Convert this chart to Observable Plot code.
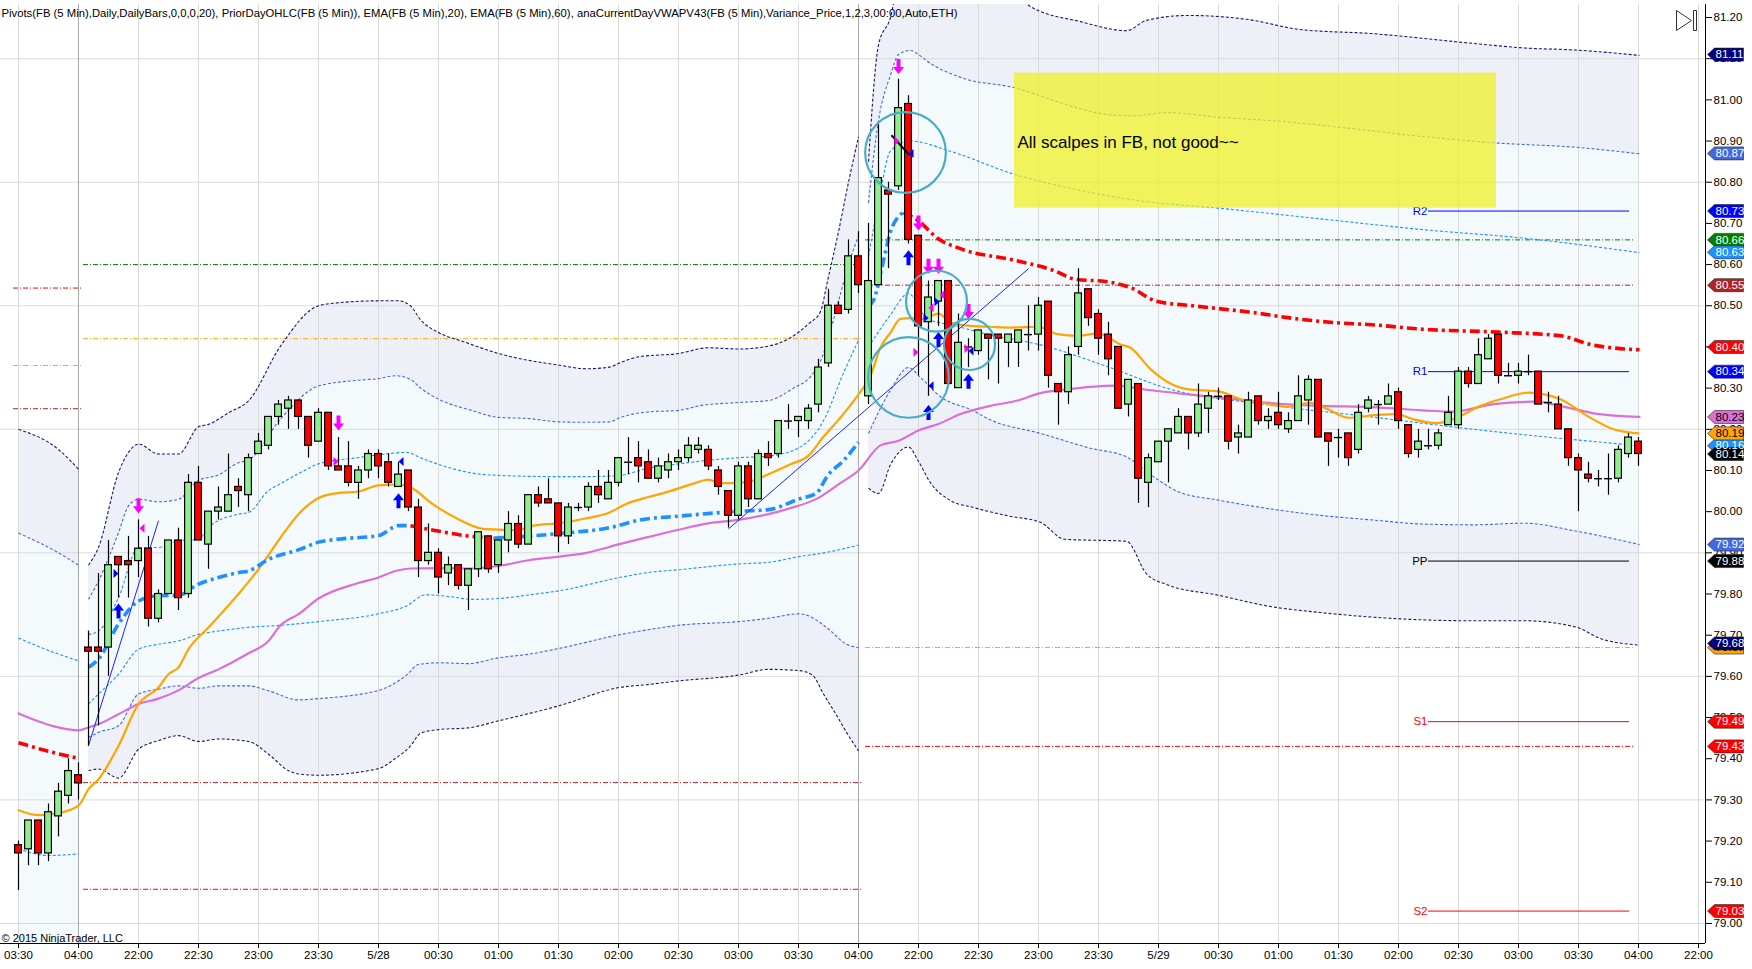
<!DOCTYPE html>
<html>
<head>
<meta charset="utf-8">
<script src="https://cdn.jsdelivr.net/npm/d3@7"></script>
<script src="https://cdn.jsdelivr.net/npm/@observablehq/plot@0.6"></script>
<style>
  html, body { margin: 0; padding: 0; background: #ffffff; }
  #chart svg { display: block; }
</style>
</head>
<body>
<div id="chart"></div>
<script>
// ---------------- DATA ----------------
const titleText = "Pivots(FB (5 Min),Daily,DailyBars,0,0,0,20), PriorDayOHLC(FB (5 Min)), EMA(FB (5 Min),20), EMA(FB (5 Min),60), anaCurrentDayVWAPV43(FB (5 Min),Variance_Price,1,2,3,00:00,Auto,ETH)";
const copyrightText = "© 2015 NinjaTrader, LLC";

// x axis labels, one every 6 bars (30 minutes of 5-minute bars)
const xLabels = ["03:30","04:00","22:00","22:30","23:00","23:30","5/28","00:30","01:00","01:30","02:00","02:30","03:00","03:30","04:00","22:00","22:30","23:00","23:30","5/29","00:30","01:00","01:30","02:00","02:30","03:00","03:30","04:00","22:00"];
const yTickValues = [79.0,79.1,79.2,79.3,79.4,79.5,79.6,79.7,79.8,79.9,80.0,80.1,80.2,80.3,80.4,80.5,80.6,80.7,80.8,80.9,81.0,81.1,81.2];
const yGridValues = [79.0,79.3,79.6,79.9,80.2,80.5,80.8,81.1];
const sessionBreaks = [6, 84];

// candles: [open, high, low, close], bar index = position
const ohlc = [
[79.19,79.20,79.08,79.17],[79.18,79.25,79.14,79.25],[79.25,79.25,79.14,79.17],[79.17,79.29,79.15,79.27],[79.26,79.34,79.21,79.32],
[79.31,79.40,79.29,79.37],[79.36,79.39,79.30,79.34],[79.67,79.71,79.43,79.66],[79.67,79.85,79.48,79.66],[79.67,79.93,79.60,79.87],
[79.89,79.89,79.79,79.87],[79.88,79.94,79.79,79.87],[79.88,79.98,79.84,79.91],[79.91,79.94,79.72,79.74],[79.74,79.81,79.73,79.80],
[79.80,79.93,79.80,79.93],[79.93,79.96,79.76,79.79],[79.80,80.09,79.79,80.07],[80.07,80.11,79.93,79.93],[79.92,80.00,79.86,80.00],
[80.00,80.06,79.98,80.01],[80.00,80.14,80.00,80.04],[80.06,80.08,80.01,80.05],[80.04,80.14,80.00,80.13],[80.14,80.19,80.14,80.17],
[80.16,80.23,80.15,80.23],[80.23,80.27,80.21,80.26],[80.25,80.28,80.20,80.27],[80.27,80.27,80.20,80.23],[80.23,80.23,80.13,80.16],
[80.17,80.25,80.17,80.24],[80.24,80.24,80.10,80.11],[80.11,80.18,80.10,80.10],[80.11,80.17,80.06,80.07],[80.07,80.11,80.03,80.10],
[80.10,80.15,80.08,80.14],[80.14,80.15,80.08,80.11],[80.12,80.14,80.06,80.07],[80.06,80.12,80.06,80.09],[80.10,80.10,80.00,80.01],
[80.01,80.03,79.84,79.88],[79.88,79.97,79.87,79.90],[79.90,79.91,79.80,79.84],[79.85,79.89,79.82,79.87],[79.87,79.87,79.81,79.82],
[79.82,79.86,79.76,79.86],[79.86,79.95,79.84,79.95],[79.94,79.94,79.85,79.86],[79.87,79.93,79.85,79.93],[79.93,80.00,79.90,79.97],
[79.97,79.99,79.91,79.92],[79.92,80.04,79.92,80.04],[80.04,80.06,80.01,80.02],[80.03,80.08,80.02,80.02],[80.02,80.02,79.90,79.94],
[79.94,80.02,79.92,80.01],[80.01,80.02,80.00,80.01],[80.01,80.07,80.00,80.06],[80.06,80.10,80.02,80.04],[80.03,80.10,80.03,80.07],
[80.07,80.13,80.06,80.13],[80.12,80.18,80.09,80.12],[80.13,80.17,80.07,80.11],[80.12,80.15,80.08,80.08],[80.08,80.13,80.07,80.11],
[80.10,80.14,80.08,80.12],[80.12,80.15,80.10,80.13],[80.13,80.18,80.12,80.16],[80.15,80.18,80.14,80.16],[80.15,80.16,80.10,80.11],
[80.10,80.11,80.04,80.06],[80.05,80.05,79.96,79.99],[79.99,80.12,79.98,80.11],[80.11,80.12,80.01,80.03],[80.03,80.15,80.03,80.14],
[80.14,80.17,80.11,80.13],[80.14,80.22,80.13,80.22],[80.22,80.26,80.20,80.22],[80.22,80.23,80.18,80.23],[80.22,80.26,80.20,80.25],
[80.26,80.37,80.24,80.35],[80.36,80.54,80.35,80.50],[80.50,80.51,80.48,80.48],[80.49,80.66,80.48,80.62],[80.62,80.68,80.53,80.55],
[80.28,80.70,80.26,80.56],[80.55,80.94,80.55,80.81],[80.78,80.80,80.59,80.77],[80.79,81.05,80.78,80.98],[80.99,81.01,80.65,80.66],
[80.67,80.67,80.33,80.45],[80.46,80.56,80.28,80.52],[80.51,80.56,80.45,80.56],[80.56,80.56,80.31,80.31],[80.30,80.48,80.30,80.41],
[80.40,80.42,80.35,80.40],[80.39,80.44,80.38,80.44],[80.43,80.43,80.32,80.42],[80.43,80.43,80.31,80.42],[80.41,80.43,80.35,80.43],
[80.41,80.44,80.35,80.44],[80.43,80.50,80.39,80.43],[80.43,80.52,80.39,80.50],[80.51,80.51,80.30,80.33],[80.31,80.31,80.21,80.29],
[80.29,80.40,80.26,80.38],[80.40,80.59,80.38,80.53],[80.54,80.54,80.45,80.47],[80.48,80.49,80.38,80.42],[80.43,80.46,80.33,80.37],
[80.40,80.40,80.25,80.25],[80.26,80.32,80.23,80.32],[80.31,80.31,80.02,80.08],[80.07,80.14,80.01,80.13],[80.12,80.17,80.12,80.17],
[80.17,80.20,80.07,80.20],[80.19,80.25,80.19,80.23],[80.23,80.23,80.15,80.19],[80.19,80.31,80.18,80.26],[80.25,80.29,80.19,80.28],
[80.28,80.30,80.27,80.28],[80.28,80.28,80.15,80.17],[80.18,80.21,80.14,80.19],[80.18,80.29,80.18,80.27],[80.28,80.28,80.21,80.22],
[80.22,80.25,80.20,80.23],[80.24,80.29,80.20,80.21],[80.20,80.24,80.19,80.22],[80.22,80.33,80.22,80.28],[80.27,80.33,80.21,80.32],
[80.32,80.32,80.18,80.18],[80.19,80.19,80.11,80.17],[80.18,80.20,80.13,80.18],[80.19,80.19,80.11,80.13],[80.15,80.26,80.14,80.24],
[80.25,80.28,80.24,80.27],[80.26,80.27,80.21,80.26],[80.26,80.31,80.26,80.28],[80.29,80.30,80.20,80.22],[80.21,80.21,80.13,80.14],
[80.15,80.20,80.13,80.17],[80.16,80.20,80.15,80.16],[80.16,80.20,80.15,80.19],[80.21,80.28,80.21,80.24],[80.21,80.35,80.20,80.34],
[80.34,80.35,80.30,80.31],[80.31,80.42,80.31,80.38],[80.37,80.43,80.37,80.42],[80.43,80.43,80.31,80.33],[80.33,80.36,80.33,80.33],
[80.33,80.36,80.31,80.34],[80.34,80.38,80.33,80.34],[80.34,80.34,80.26,80.26],[80.265,80.29,80.24,80.265],[80.26,80.28,80.20,80.20],
[80.20,80.20,80.11,80.13],[80.13,80.14,80.00,80.10],[80.09,80.12,80.07,80.08],[80.08,80.10,80.06,80.08],[80.08,80.14,80.04,80.08],
[80.08,80.16,80.07,80.15],[80.14,80.19,80.13,80.18],[80.17,80.18,80.11,80.14]
];

// EMA(20) and EMA(60): [bar, value]
const ema20 = [[0,79.275],[2,79.263],[4,79.268],[6,79.286],[7,79.326],[8,79.35],[10,79.431],[12,79.533],[14,79.573],[15,79.605],[16,79.622],[17,79.666],[19,79.719],[22,79.80],[24,79.86],[26.2,79.937],[28,79.994],[30,80.033],[31.9,80.045],[34,80.049],[36,80.064],[38,80.066],[39.2,80.059],[41.5,80.017],[43.8,79.984],[46.5,79.958],[48.4,79.956],[49.9,79.955],[51.5,79.966],[54.1,79.972],[56.8,79.984],[59.1,79.998],[60.6,80.017],[62.9,80.035],[64.5,80.045],[67.5,80.068],[69,80.078],[70.2,80.069],[72.1,80.07],[73.3,80.074],[75.2,80.093],[77.1,80.114],[79,80.136],[80.5,80.182],[82.1,80.226],[84,80.285],[85.2,80.33],[86.2,80.399],[87.2,80.435],[88.2,80.468],[89.2,80.47],[90.4,80.468],[92,80.481],[93.2,80.46],[95.2,80.451],[97.2,80.449],[99.2,80.447],[102,80.449],[103.9,80.431],[105.9,80.427],[108,80.433],[110.2,80.406],[111.2,80.398],[113.2,80.346],[114.9,80.315],[117,80.297],[120,80.292],[122.2,80.273],[124.2,80.265],[127,80.255],[129.2,80.264],[130.9,80.249],[133,80.228],[135.9,80.235],[137.8,80.237],[139.5,80.224],[141.8,80.215],[143.8,80.228],[146.2,80.257],[148.2,80.273],[151,80.289],[154.2,80.273],[156.9,80.232],[159.5,80.20],[162,80.19]];
const ema60 = [[0,79.51],[4,79.476],[6,79.469],[7,79.476],[8,79.484],[10,79.508],[12,79.533],[14,79.546],[16,79.566],[18,79.596],[20,79.617],[23,79.656],[25,79.686],[26.2,79.724],[28,79.751],[30,79.789],[33.9,79.826],[36,79.84],[37.7,79.856],[39.2,79.862],[42.1,79.863],[45.3,79.862],[48,79.868],[51,79.882],[54.1,79.891],[56.8,79.90],[60.1,79.921],[62.9,79.938],[66,79.956],[69.1,79.972],[72,79.98],[75,79.994],[77.1,80.008],[79.8,80.031],[82.1,80.068],[84,80.10],[86.2,80.161],[88,80.172],[90,80.197],[92,80.213],[94.2,80.237],[97.2,80.257],[99.9,80.27],[102.2,80.288],[104.5,80.296],[107.2,80.303],[109.7,80.306],[112.8,80.296],[116.9,80.285],[121,80.275],[125.1,80.264],[130.2,80.257],[135.3,80.254],[140.4,80.246],[143.4,80.243],[147.5,80.261],[151.6,80.267],[154.7,80.254],[157.7,80.238],[162.1,80.23]];

// Current-day VWAP and its 1/2/3 deviation bands, per session: [bar, value]
const s1Vwap = [[0,79.439],[3,79.418],[6,79.401]];
const s1U1 = [[0,79.693],[4,79.654],[6,79.638]];
const s1U2 = [[0,79.948],[4,79.90],[6,79.87]];
const s1U3 = [[0,80.20],[4,80.151],[6,80.103]];
const s1L1 = [[0,79.181],[3,79.165],[6,79.169]];

const s2Vwap = [[7,79.622],[8,79.642],[10,79.727],[12,79.783],[14,79.796],[16,79.797],[18,79.824],[20,79.84],[22,79.852],[23,79.856],[25,79.884],[28.2,79.909],[30,79.926],[31.9,79.933],[36,79.942],[38,79.966],[39.2,79.966],[41.5,79.955],[44.6,79.942],[47.6,79.936],[50.7,79.94],[54.1,79.947],[59.1,79.961],[62.2,79.98],[66,79.989],[72,80.001],[75,80.005],[78.1,80.031],[79.8,80.045],[80.9,80.087],[82.5,80.124],[84,80.168]];
const s2U1 = [[7,79.702],[8,79.71],[10,79.791],[12,79.913],[14,79.913],[16,79.929],[18,79.933],[19,79.962],[22,79.994],[23,79.998],[25,80.051],[26.2,80.068],[28.2,80.095],[30,80.116],[33.9,80.131],[36,80.138],[38.8,80.144],[40.2,80.131],[42.1,80.114],[45.3,80.094],[48,80.088],[54.1,80.085],[56.8,80.085],[60.1,80.088],[62.9,80.105],[66,80.116],[69.1,80.125],[72,80.131],[75,80.135],[78.1,80.156],[80.5,80.221],[82.5,80.337],[84,80.416]];
const s2U2 = [[7,79.787],[8,79.832],[10,79.949],[11,80.014],[12,80.03],[14,80.024],[16,80.03],[18,80.076],[20,80.089],[22,80.119],[23,80.125],[26.2,80.225],[30,80.305],[33.9,80.319],[36,80.323],[37.7,80.33],[39.2,80.321],[40.2,80.30],[42.1,80.272],[45.3,80.246],[48,80.229],[51.1,80.226],[54.1,80.218],[56.8,80.217],[59.1,80.218],[60.1,80.228],[62.9,80.242],[66,80.246],[68.3,80.258],[72,80.265],[75,80.27],[77.5,80.30],[79.2,80.328],[80.2,80.365],[81.3,80.449],[82.1,80.52],[83,80.60],[84,80.67]];
const s2U3 = [[7,79.87],[8,79.913],[10,80.095],[11,80.144],[12,80.164],[14,80.14],[16,80.14],[18,80.206],[19,80.212],[21,80.24],[23,80.269],[26.2,80.402],[30,80.50],[31.9,80.507],[36,80.512],[38,80.512],[39.2,80.50],[40.2,80.466],[42,80.435],[44.6,80.412],[48,80.384],[54,80.356],[56.8,80.347],[59.1,80.351],[60,80.36],[62,80.376],[66,80.384],[69,80.398],[72,80.395],[75,80.402],[77.1,80.421],[79,80.456],[80.2,80.486],[80.9,80.56],[82,80.68],[83,80.80],[84,80.91]];
const s2L1 = [[7,79.533],[8,79.557],[10,79.605],[12,79.666],[14,79.678],[16,79.686],[18,79.702],[20,79.71],[23,79.719],[26.2,79.724],[30,79.733],[36,79.752],[38.8,79.771],[40.7,79.798],[43,79.794],[45.3,79.787],[48,79.789],[51.1,79.798],[54.1,79.808],[60.1,79.84],[62.9,79.852],[66,79.859],[72,79.873],[75,79.877],[78.1,79.891],[81,79.902],[82.5,79.91],[84,79.919]];
const s2L2 = [[7,79.452],[8,79.464],[10,79.48],[12,79.557],[14,79.569],[16,79.577],[18,79.571],[20,79.577],[23,79.577],[25,79.565],[28,79.543],[30,79.546],[36,79.566],[38.8,79.603],[40,79.629],[42.1,79.633],[45,79.631],[48,79.645],[51.1,79.654],[54.1,79.668],[60.1,79.701],[62.9,79.713],[66,79.724],[72,79.733],[75,79.741],[78.1,79.752],[79,79.747],[81,79.715],[82.8,79.678],[84,79.67]];
const s2L3 = [[7,79.371],[8,79.375],[10,79.353],[12,79.423],[14,79.444],[16,79.456],[18,79.442],[20,79.448],[23,79.442],[25,79.411],[27,79.371],[28,79.363],[30,79.36],[36,79.376],[37.7,79.401],[39.2,79.431],[40.2,79.462],[42.1,79.471],[45,79.475],[48,79.492],[51.1,79.51],[54.1,79.529],[60.1,79.573],[62.9,79.58],[66,79.589],[72,79.603],[75,79.617],[78.1,79.614],[79.4,79.603],[80.5,79.557],[81.7,79.51],[82.8,79.464],[84,79.419]];

const s3Vwap = [[85,80.50],[85.5,80.513],[86.5,80.61],[87.2,80.68],[87.9,80.714],[88.5,80.727],[90,80.706],[91.9,80.664],[94.4,80.637],[99.5,80.611],[103.6,80.585],[105.7,80.564],[108.7,80.559],[111.3,80.543],[113.8,80.511],[117.4,80.50],[123,80.485],[127.6,80.469],[131.7,80.459],[135.3,80.454],[140.4,80.443],[148,80.436],[154.2,80.427],[157.2,80.406],[162.1,80.393]];
const s3U1 = [[85,80.62],[86,80.75],[87.2,80.876],[89.2,80.90],[93.2,80.875],[99.5,80.82],[106.2,80.78],[112.8,80.753],[120,80.737],[130.2,80.711],[140.4,80.685],[150.6,80.664],[162.1,80.629]];
const s3U2 = [[85,80.75],[86,80.95],[87.2,81.06],[88,81.11],[89.2,81.12],[90,81.11],[90.8,81.095],[94.4,81.053],[99.5,81.03],[104.6,80.99],[107.7,80.969],[111.3,80.961],[114.8,80.969],[120,80.958],[126.1,80.948],[132.7,80.932],[140.4,80.911],[148,80.895],[155.7,80.885],[162.1,80.869]];
const s3U3 = [[85,80.85],[86,81.133],[87.2,81.20],[88,81.28],[99,81.28],[101.1,81.228],[106.2,81.19],[110.8,81.168],[112.8,81.193],[116.9,81.205],[123,81.195],[128.1,81.171],[135.3,81.161],[145.5,81.137],[150.6,81.126],[155.7,81.121],[162.1,81.108]];
const s3L1 = [[85,80.40],[87.2,80.478],[89,80.53],[90.8,80.47],[93.9,80.45],[97,80.43],[102.2,80.405],[108.7,80.354],[114.8,80.30],[125.1,80.259],[135.3,80.23],[145.5,80.20],[162.1,80.16]];
const s3L2 = [[85,80.19],[87.2,80.295],[89,80.35],[90.2,80.326],[92.2,80.279],[95.5,80.245],[97,80.225],[102.2,80.19],[107.2,80.154],[110.8,80.133],[113.8,80.08],[115.9,80.049],[120,80.028],[125.1,80.007],[130.2,79.991],[135.3,79.98],[140.4,79.97],[145.5,79.968],[150.6,79.972],[155.7,79.953],[162.1,79.92]];
const s3L3 = [[85,80.057],[86,80.044],[87.2,80.114],[89,80.157],[90,80.122],[91.2,80.07],[93.2,80.027],[95.5,80.01],[98.9,79.99],[102.2,79.974],[104.6,79.933],[110.8,79.928],[112.8,79.849],[114.8,79.823],[120,79.797],[125.1,79.77],[130.2,79.755],[135.3,79.744],[145.5,79.735],[150.6,79.735],[155.7,79.72],[158.3,79.691],[162.1,79.676]];

// Prior-day OHLC levels: [fromBar, toBar, price, kind]
const priorDayLevels = [
  [-0.5, 6.5, 80.543, "low"], [-0.5, 6.5, 80.355, "close"], [-0.5, 6.5, 80.25, "open"],
  [6.5, 84.4, 80.60, "high"], [6.5, 84.4, 80.42, "close"], [6.5, 84.4, 79.342, "open"], [6.5, 84.4, 79.083, "low"],
  [84.7, 161.6, 80.66, "high"], [84.7, 161.6, 80.55, "open"], [84.7, 161.6, 79.67, "close"], [84.7, 161.6, 79.43, "low"]
];
// Daily pivots
const pivotNames = ["R2", "R1", "PP", "S1", "S2"];
const pivotValues = [80.73, 80.34, 79.88, 79.49, 79.03];
const pivotSpan = [141, 161.1];

// Hand-drawn objects: trend lines [bar1, price1, bar2, price2]
const trendLines = [[7, 79.432, 14, 79.978], [71, 79.958, 101, 80.59]];
const blackStroke = [[87.3, 80.914, 89.1, 80.866]];
// signal markers [bar, price]
const sellArrows = [[12,80.013],[32,80.214],[88,81.08],[90,80.70],[91,80.595],[92,80.595],[95,80.485]];
const buyArrows = [[10,79.76],[38,80.028],[89,80.618],[91,80.242],[92,80.419],[95,80.318]];
const magentaRight = [[31.7,80.122],[87.8,80.90],[89.7,80.387],[94.8,80.396]];
const magentaLeft = [[12.4,79.96],[91.3,80.495],[92.4,80.527]];
const blueRight = [[9.7,79.85],[90.7,80.47],[91.8,80.51]];
const blueLeft = [[38.3,80.122],[89.3,80.87],[91.3,80.306],[95.3,80.39]];
// ellipses: [bar, price, radius in price units]
const circleMarks = [[88.7, 80.872, 0.098], [91.8, 80.511, 0.074], [95.1, 80.406, 0.062], [89.0, 80.326, 0.098]];
// yellow note box: [bar1, bar2, price1, price2]
const noteBox = [99.6, 147.8, 80.737, 81.065];
const noteText = "All scalpes in FB, not good~~";
const notePos = [99.9, 80.896];

// Price tags on the axis (last values)
const tagValues = [81.11, 80.87, 80.73, 80.66, 80.63, 80.55, 80.40, 80.34, 80.23, 80.16, 80.19, 80.14, 79.92, 79.88, 79.67, 79.68, 79.49, 79.43, 79.03];
const tagSeries = ["u3","u2","r","high","u1","open","vwap","r","ema60","u1","ema20","last","u2","pp","close","u3","s","low","s"];

// ---------------- STYLE ----------------
const C = {
  up: "#90ee90", down: "#ff0000", wick: "#000000",
  ema20: "#ffa500", ema60: "#da70d6",
  vwapUp: "#1e90ff", vwapDown: "#ff0000",
  u1: "#1e90ff", u2: "#4169e1", u3: "#191970",
  lavender: "#eef0f8", azure: "#f4fafb",
  grid: "#dadada", sep: "#a8a8a8",
  high: "#008000", low: "#ff0000", open: "#b22222", close: "#ffa500",
  r: "#0000ff", pp: "#000000", s: "#ff0000",
  circle: "#4bacc6", trend: "#2020ff", magenta: "#ff00ff", blue: "#0000ff"
};
const tagFill = { u3: "#000080", u2: "#4169e1", u1: "#1e90ff", r: "#0000ff", high: "#008000", open: "#b22222",
  vwap: "#ff0000", ema60: "#da70d6", ema20: "#ffa500", last: "#000000", pp: "#000000", close: "#ffa500", s: "#ff0000", low: "#ff0000" };
const tagText = { ema60: "#000000", ema20: "#000000", close: "#000000" };

const W = 1752, H = 969;
const M = { top: 4, right: 47, bottom: 26, left: 0 };
const xDomain = [-1.8, 168.7];
const yDomain = [78.9513, 81.2316];
const pxPerPrice = (H - M.top - M.bottom) / (yDomain[1] - yDomain[0]);
const FONT = "'Liberation Sans', Arial, sans-serif";

// ---------------- DERIVED ----------------
const bars = ohlc.map(([o, h, l, c], i) => ({ i, o, h, l, c }));
const upBars = bars.filter(d => d.c > d.o);
const downBars = bars.filter(d => d.c < d.o);
const flatBars = bars.filter(d => d.c === d.o);
const xTickBars = xLabels.map((_, k) => k * 6);
const P = () => ({ x: d => d[0], y: d => d[1] });

function slopeRuns(pts, name) {
  const out = []; let run = -1, prevUp = null;
  for (let k = 1; k < pts.length; k++) {
    const up = pts[k][1] >= pts[k - 1][1];
    if (up !== prevUp) { run++; out.push({ i: pts[k - 1][0], v: pts[k - 1][1], z: name + run, up }); prevUp = up; }
    out.push({ i: pts[k][0], v: pts[k][1], z: name + run, up });
  }
  return out;
}
const vwapRuns = [...slopeRuns(s1Vwap, "a"), ...slopeRuns(s2Vwap, "b"), ...slopeRuns(s3Vwap, "c")];

// custom symbols
const sym = (f) => ({ draw: f });
const arrowDown = sym(c => { c.moveTo(-2,-8); c.lineTo(2,-8); c.lineTo(2,0); c.lineTo(5.5,0); c.lineTo(0,7); c.lineTo(-5.5,0); c.lineTo(-2,0); c.closePath(); });
const arrowUp = sym(c => { c.moveTo(-2,8); c.lineTo(2,8); c.lineTo(2,0); c.lineTo(5.5,0); c.lineTo(0,-7); c.lineTo(-5.5,0); c.lineTo(-2,0); c.closePath(); });
const triRight = sym(c => { c.moveTo(-2,-4.5); c.lineTo(3,0); c.lineTo(-2,4.5); c.closePath(); });
const triLeft = sym(c => { c.moveTo(2,-4.5); c.lineTo(-3,0); c.lineTo(2,4.5); c.closePath(); });
const tagShape = sym(c => { c.moveTo(2,0); c.lineTo(9,-6.5); c.lineTo(38,-6.5); c.lineTo(38,6.5); c.lineTo(9,6.5); c.closePath(); });
const iconShape = sym(c => { c.moveTo(-10,-10); c.lineTo(5,0); c.lineTo(-10,10); c.closePath(); c.moveTo(7,-10); c.lineTo(10,-10); c.lineTo(10,10); c.lineTo(7,10); c.closePath(); });

const curve = "monotone-x";
const bandLine = (pts, color) => Plot.line(pts, { ...P(), stroke: color, strokeWidth: 1.1, strokeDasharray: "3,2", strokeLinecap: "butt", curve, clip: true });
const fillTo = (pts, color) => Plot.areaY(pts, { x: d => d[0], y1: yDomain[0], y2: d => d[1], fill: color, curve, clip: true });

const tags = tagValues.map((v, k) => ({ v, s: tagSeries[k] }));

const marks = [
  // band fills (layered)
  fillTo(s1U3, C.lavender), fillTo(s1U2, C.azure),
  fillTo(s2U3, C.lavender), fillTo(s2U2, C.azure), fillTo(s2L2, C.lavender), fillTo(s2L3, "#ffffff"),
  fillTo(s3U3, C.lavender), fillTo(s3U2, C.azure), fillTo(s3L2, C.lavender), fillTo(s3L3, "#ffffff"),
  // grid
  Plot.gridX({ ticks: xTickBars, stroke: C.grid, strokeOpacity: 1 }),
  Plot.gridY({ ticks: yGridValues, stroke: C.grid, strokeOpacity: 1 }),
  Plot.ruleX(sessionBreaks, { stroke: C.sep, strokeWidth: 1 }),
  // prior-day levels
  Plot.ruleY(priorDayLevels, { x1: d => d[0], x2: d => d[1], y: d => d[2], stroke: d => C[d[3]], strokeWidth: 1, strokeDasharray: "5,2,1,2", strokeLinecap: "butt", clip: true }),
  // pivots
  Plot.ruleY(pivotValues, { x1: pivotSpan[0], x2: pivotSpan[1], y: d => d, stroke: (d, k) => C[pivotNames[k][0] === "R" ? "r" : pivotNames[k] === "PP" ? "pp" : "s"], strokeWidth: 1 }),
  Plot.text(pivotValues, { x: pivotSpan[0], y: d => d, text: (d, k) => pivotNames[k], textAnchor: "end", dx: -1, fill: (d, k) => C[pivotNames[k][0] === "R" ? "r" : pivotNames[k] === "PP" ? "pp" : "s"], fontSize: 11.5 }),
  // bands
  bandLine(s1U3, C.u3), bandLine(s1U2, C.u2), bandLine(s1U1, C.u1), bandLine(s1L1, C.u1),
  bandLine(s2U3, C.u3), bandLine(s2U2, C.u2), bandLine(s2U1, C.u1), bandLine(s2L1, C.u1), bandLine(s2L2, C.u2), bandLine(s2L3, C.u3),
  bandLine(s3U3, C.u3), bandLine(s3U2, C.u2), bandLine(s3U1, C.u1), bandLine(s3L1, C.u1), bandLine(s3L2, C.u2), bandLine(s3L3, C.u3),
  // yellow note box
  Plot.rect([noteBox], { x1: d => d[0], x2: d => d[1], y1: d => d[2], y2: d => d[3], fill: "#f0f020", fillOpacity: 0.72 }),
  // EMAs and VWAP
  Plot.line(ema60, { ...P(), stroke: C.ema60, strokeWidth: 2.2, curve, clip: true }),
  Plot.line(ema20, { ...P(), stroke: C.ema20, strokeWidth: 2.2, curve, clip: true }),
  Plot.line(vwapRuns, { x: "i", y: "v", z: "z", stroke: d => d.up ? C.vwapUp : C.vwapDown, strokeWidth: 3.6, strokeDasharray: "10,4,3,4", strokeLinecap: "butt", curve, clip: true }),
  // trend lines
  Plot.link(trendLines, { x1: d => d[0], y1: d => d[1], x2: d => d[2], y2: d => d[3], stroke: C.trend, strokeWidth: 1 }),
  // candles
  Plot.ruleX(bars, { x: "i", y1: "l", y2: "h", stroke: C.wick, strokeWidth: 1.2 }),
  Plot.rect(upBars, { x1: d => d.i - 0.5, x2: d => d.i + 0.5, y1: "o", y2: "c", insetLeft: 1.6, insetRight: 1.6, fill: C.up, stroke: "#000", strokeWidth: 1.2 }),
  Plot.rect(downBars, { x1: d => d.i - 0.5, x2: d => d.i + 0.5, y1: "o", y2: "c", insetLeft: 1.6, insetRight: 1.6, fill: C.down, stroke: "#000", strokeWidth: 1.2 }),
  Plot.ruleY(flatBars, { y: "o", x1: d => d.i - 0.4, x2: d => d.i + 0.4, stroke: "#000", strokeWidth: 1.4 }),
  Plot.link(blackStroke, { x1: d => d[0], y1: d => d[1], x2: d => d[2], y2: d => d[3], stroke: "#000", strokeWidth: 2 }),
  // signals
  Plot.dot(sellArrows, { ...P(), symbol: arrowDown, fill: C.magenta, stroke: "none", r: 5 }),
  Plot.dot(buyArrows, { ...P(), symbol: arrowUp, fill: C.blue, stroke: "none", r: 5 }),
  Plot.dot(magentaRight, { ...P(), symbol: triRight, fill: C.magenta, stroke: "none", r: 4 }),
  Plot.dot(magentaLeft, { ...P(), symbol: triLeft, fill: C.magenta, stroke: "none", r: 4 }),
  Plot.dot(blueRight, { ...P(), symbol: triRight, fill: C.blue, stroke: "none", r: 4 }),
  Plot.dot(blueLeft, { ...P(), symbol: triLeft, fill: C.blue, stroke: "none", r: 4 }),
  // ellipses
  ...circleMarks.map(cm => Plot.dot([cm], { ...P(), r: cm[2] * pxPerPrice, fill: "none", stroke: C.circle, strokeWidth: 2.2 })),
  // note text
  Plot.text([noteText], { x: notePos[0], y: notePos[1], text: d => d, textAnchor: "start", fontSize: 17, fill: "#000", fontFamily: "'Liberation Sans Narrow', 'Liberation Sans', sans-serif" }),
  // axes lines
  Plot.ruleY([yDomain[0]], { stroke: "#000", strokeWidth: 1 }),
  Plot.ruleX([xDomain[1]], { stroke: "#000", strokeWidth: 1 }),
  Plot.axisX({ ticks: xTickBars, tickFormat: d => xLabels[xTickBars.indexOf(d)], tickSize: 5, tickPadding: 2, label: null, fontSize: 11.5 }),
  Plot.axisY({ anchor: "right", ticks: yTickValues, tickFormat: d => d.toFixed(2), tickSize: 6, tickPadding: 2, label: null, fontSize: 11.5 }),
  // price tags
  Plot.dot(tags, { y: "v", frameAnchor: "right", symbol: tagShape, r: 5, fill: d => tagFill[d.s], stroke: "#222", strokeWidth: 0.6 }),
  Plot.text(tags, { y: "v", frameAnchor: "right", text: d => d.v.toFixed(2), dx: 10, textAnchor: "start", fill: d => tagText[d.s] || "#ffffff", fontSize: 11.5 }),
  // header, footer, icon
  Plot.text([titleText], { frameAnchor: "top-left", text: d => d, dx: 1, dy: 4, lineAnchor: "top", textAnchor: "start", fontSize: 11.3, fill: "#000" }),
  Plot.text([copyrightText], { frameAnchor: "bottom-left", text: d => d, dx: 1, dy: -2, lineAnchor: "bottom", textAnchor: "start", fontSize: 11, fill: "#000" }),
  Plot.dot([0], { frameAnchor: "top-right", dx: -19, dy: 16, symbol: iconShape, r: 5, fill: "none", stroke: "#333", strokeWidth: 1 })
];

const chart = Plot.plot({
  width: W, height: H,
  marginTop: M.top, marginRight: M.right, marginBottom: M.bottom, marginLeft: M.left,
  x: { domain: xDomain },
  y: { domain: yDomain },
  color: { type: "identity" },
  style: { fontFamily: FONT, fontSize: "11.5px", background: "#ffffff", color: "#000" },
  marks
});
document.getElementById("chart").appendChild(chart);
</script>
</body>
</html>
